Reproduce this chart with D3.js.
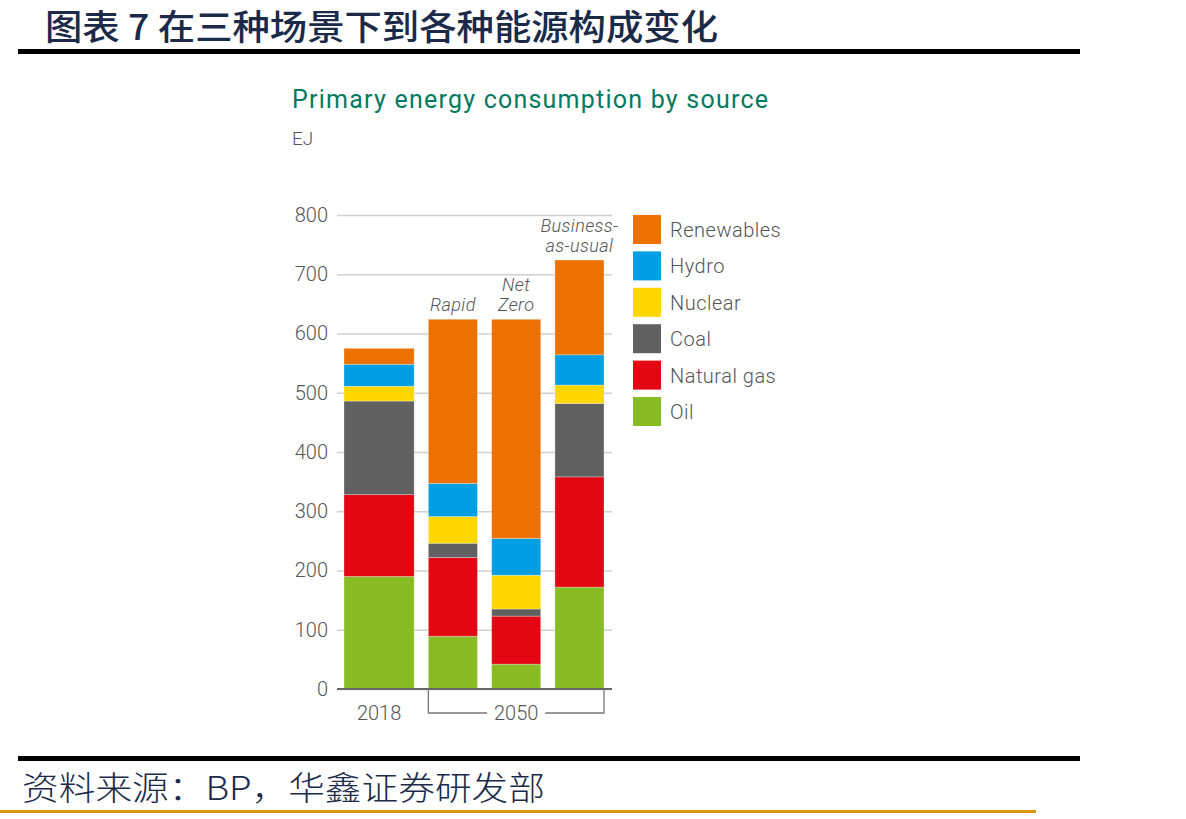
<!DOCTYPE html>
<html>
<head>
<meta charset="utf-8">
<script src="https://cdn.jsdelivr.net/npm/d3@7"></script>
<style>
  body { margin: 0; background: #fff; }
  svg { display: block; }
  .tick text { font-family: Roboto, "Noto Sans", sans-serif; }
</style>
</head>
<body>
<div id="chart"></div>
<script>
// data (EJ)
var categories = ["2018", "Rapid", "Net Zero", "Business-as-usual"];
var sources = ["Oil", "Natural gas", "Coal", "Nuclear", "Hydro", "Renewables"];
var oil        = [190,  89,  42, 172];
var naturalGas = [138, 133,  81, 186];
var coal       = [158,  24,  12, 124];
var nuclear    = [ 25,  45,  57,  31];
var hydro      = [ 37,  56,  62,  51];
var renewables = [ 27, 277, 370, 160];
var yTicks = [0, 100, 200, 300, 400, 500, 600, 700, 800];
var scenarioLines = [[], ["Rapid"], ["Net", "Zero"], ["Business-", "as-usual"]];

var colors = {
  "Oil": "#88bc24",
  "Natural gas": "#e30613",
  "Coal": "#616161",
  "Nuclear": "#ffd700",
  "Hydro": "#009fe3",
  "Renewables": "#ec7100"
};

var rows = categories.map(function(c, i) {
  return {
    category: c,
    "Oil": oil[i], "Natural gas": naturalGas[i], "Coal": coal[i],
    "Nuclear": nuclear[i], "Hydro": hydro[i], "Renewables": renewables[i]
  };
});

var W = 1186, H = 819;
var svg = d3.select("#chart").append("svg")
  .attr("width", W).attr("height", H);

svg.append("rect").attr("width", W).attr("height", H).attr("fill", "#fff");

// report header
svg.append("text")
  .attr("x", 45).attr("y", 40)
  .attr("font-family", "'Noto Sans CJK SC', sans-serif")
  .attr("font-size", 35).attr("font-weight", 500)
  .attr("fill", "#1c2a4a")
  .attr("textLength", 673).attr("lengthAdjust", "spacingAndGlyphs")
  .text("图表 7 在三种场景下到各种能源构成变化");
svg.append("rect").attr("x", 18).attr("y", 49).attr("width", 1062).attr("height", 5).attr("fill", "#000");

// footer
svg.append("rect").attr("x", 18).attr("y", 756).attr("width", 1062).attr("height", 5).attr("fill", "#000");
svg.append("text")
  .attr("x", 22).attr("y", 800)
  .attr("font-family", "'Noto Sans CJK SC', sans-serif")
  .attr("font-size", 33).attr("font-weight", 300)
  .attr("fill", "#1c2a4a")
  .attr("textLength", 523).attr("lengthAdjust", "spacingAndGlyphs")
  .text("资料来源：BP，华鑫证券研发部");
svg.append("rect").attr("x", 0).attr("y", 810).attr("width", 1036).attr("height", 3).attr("fill", "#d9950c");

// chart titles
var font = "Roboto, 'Noto Sans', sans-serif";
svg.append("text")
  .attr("x", 292).attr("y", 108)
  .attr("font-family", font).attr("font-size", 25)
  .attr("fill", "#007a5e")
  .attr("textLength", 476).attr("lengthAdjust", "spacing")
  .text("Primary energy consumption by source");
svg.append("text")
  .attr("x", 292).attr("y", 145)
  .attr("font-family", font).attr("font-size", 19).attr("font-weight", 300)
  .attr("fill", "#555")
  .text("EJ");

// scales
var gridLeft = 337, gridRight = 612;
var y = d3.scaleLinear().domain([0, 800]).range([689, 215]);

// bar layout: 2018 bar is wider, equal gaps
var barUnits = [1.43, 1, 1, 1], gapUnit = 0.29;
var starts = [], acc = 0;
barUnits.forEach(function(u, i) { starts.push(acc); acc += u + (i < barUnits.length - 1 ? gapUnit : 0); });
var x = d3.scaleLinear().domain([0, acc]).range([344, 604]);
function barX(i) { return x(starts[i]); }
function barW(i) { return x(starts[i] + barUnits[i]) - x(starts[i]); }
function barC(i) { return barX(i) + barW(i) / 2; }

// y axis with gridlines
var yAxis = svg.append("g")
  .attr("transform", "translate(" + gridLeft + ",0)")
  .call(d3.axisLeft(y).tickValues(yTicks).tickSize(-(gridRight - gridLeft)).tickPadding(9));
yAxis.select(".domain").remove();
yAxis.selectAll(".tick line").attr("stroke", "#d0d0d0").attr("stroke-width", 1.3);
yAxis.selectAll(".tick text")
  .attr("font-size", 20).attr("font-weight", 300).attr("fill", "#555");

// stacked bars
var stack = d3.stack().keys(sources)(rows);
svg.append("g").selectAll("g")
  .data(stack)
  .join("g")
  .attr("fill", function(d) { return colors[d.key]; })
  .selectAll("rect")
  .data(function(d) { return d; })
  .join("rect")
  .attr("x", function(d, i) { return barX(i); })
  .attr("width", function(d, i) { return barW(i); })
  .attr("y", function(d) { return y(d[1]); })
  .attr("height", function(d) { return y(d[0]) - y(d[1]); })
  .attr("stroke", "rgba(255,255,255,0.35)")
  .attr("stroke-width", 0.8);

// baseline
svg.append("line")
  .attr("x1", gridLeft).attr("x2", gridRight)
  .attr("y1", y(0)).attr("y2", y(0))
  .attr("stroke", "#666").attr("stroke-width", 2);

// scenario labels (one text per bar, lines as tspans)
var lineGap = 20;
scenarioLines.forEach(function(lines, i) {
  if (!lines.length) return;
  var top = y(d3.sum(sources, function(k) { return rows[i][k]; }));
  var t = svg.append("text")
    .attr("x", barC(i))
    .attr("y", top - 8 - (lines.length - 1) * lineGap)
    .attr("text-anchor", "middle")
    .attr("font-family", font).attr("font-size", 18)
    .attr("font-style", "italic").attr("font-weight", 300)
    .attr("letter-spacing", 0.4)
    .attr("fill", "#555");
  lines.forEach(function(line, j) {
    t.append("tspan")
      .attr("x", barC(i))
      .attr("dy", j === 0 ? 0 : lineGap)
      .text(line);
  });
});

// x labels
svg.append("text")
  .attr("x", barC(0)).attr("y", 720)
  .attr("text-anchor", "middle")
  .attr("font-family", font).attr("font-size", 20).attr("font-weight", 300)
  .attr("fill", "#555")
  .text("2018");

var bx1 = barX(1), bx2 = barX(3) + barW(3), by = 713, mid = (bx1 + bx2) / 2;
svg.append("path")
  .attr("d", "M" + bx1 + "," + y(0) + "V" + by + "H" + (mid - 29) +
             "M" + (mid + 29) + "," + by + "H" + bx2 + "V" + y(0))
  .attr("fill", "none").attr("stroke", "#777").attr("stroke-width", 1.3);
svg.append("text")
  .attr("x", mid).attr("y", 720)
  .attr("text-anchor", "middle")
  .attr("font-family", font).attr("font-size", 20).attr("font-weight", 300)
  .attr("fill", "#555")
  .text("2050");

// legend (top to bottom: Renewables ... Oil)
var legendKeys = sources.slice().reverse();
var legend = svg.append("g").attr("transform", "translate(633,215)");
var item = legend.selectAll("g")
  .data(legendKeys)
  .join("g")
  .attr("transform", function(d, i) { return "translate(0," + (i * 36.4) + ")"; });
item.append("rect")
  .attr("width", 28).attr("height", 29)
  .attr("fill", function(d) { return colors[d]; });
item.append("text")
  .attr("x", 37).attr("y", 15).attr("dy", "0.35em")
  .attr("font-family", font).attr("font-size", 20).attr("font-weight", 300)
  .attr("letter-spacing", 0.5)
  .attr("fill", "#555")
  .text(function(d) { return d; });
</script>
</body>
</html>
